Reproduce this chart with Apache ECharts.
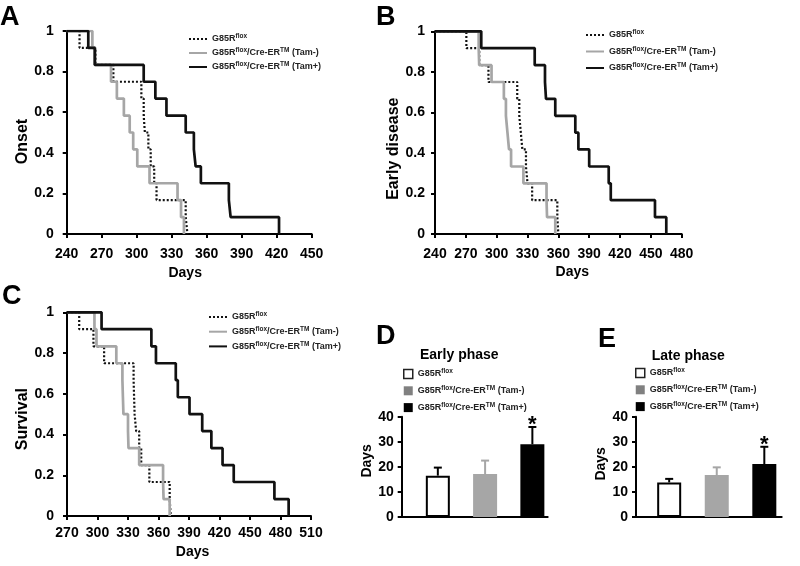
<!DOCTYPE html>
<html><head><meta charset="utf-8">
<script src="https://cdn.jsdelivr.net/npm/echarts@6/dist/echarts.min.js"></script>
<style>html,body{margin:0;padding:0;background:#fff;width:800px;height:566px;overflow:hidden}.p{position:absolute;left:0;top:0;width:800px;height:566px}</style>
</head><body>
<div id="pa" class="p"></div><div id="pb" class="p"></div><div id="pc" class="p"></div><div id="pd" class="p"></div><div id="pe" class="p"></div>
<script>
// ---------- data ----------
const groupNames = ['G85Rflox', 'G85Rflox/Cre-ERTM (Tam-)', 'G85Rflox/Cre-ERTM (Tam+)'];
const groupLabels = ['G85R{s|flox}', 'G85R{s|flox}/Cre-ER{s|TM} (Tam-)', 'G85R{s|flox}/Cre-ER{s|TM} (Tam+)'];
// fraction remaining after each successive event (n = 12 per group)
const kmLevels = [0.917, 0.833, 0.750, 0.667, 0.583, 0.500, 0.417, 0.333, 0.250, 0.167, 0.083, 0];
// event days, panel A (Onset)
const onsetFlox     = [251, 265, 280, 304, 306, 307, 310, 312, 315, 317, 342, 343.5];
const onsetTamMinus = [262, 264.5, 278, 283, 289, 294, 297, 300.5, 311, 335, 338, 340.5];
const onsetTamPlus  = [258.5, 264, 306, 316, 325.5, 342, 349, 350.5, 355, 379, 380.5, 422];
// panel B (Early disease)
const earlyFlox     = [270.5, 283, 292, 320, 322, 323.5, 325, 328.5, 330, 334.5, 359, 360];
const earlyTamMinus = [282.5, 283, 295, 307, 309, 310.5, 312, 314, 326, 348.5, 349, 357];
const earlyTamPlus  = [285, 337, 347, 348, 357, 376.5, 379.5, 390, 409, 411, 454, 465];
// panel C (Survival)
const survFlox      = [282, 296, 306.5, 335.5, 336, 336.5, 338, 341, 343, 351, 371, 372];
const survTamMinus  = [297, 299, 318.5, 324.5, 325, 325.5, 330, 330.5, 341, 364.5, 365, 371];
const survTamPlus   = [304, 353, 357.5, 377, 379, 390.5, 403, 412, 423, 434, 474, 488];
// panels D, E (duration in days, mean and error)
const earlyPhaseMean = [16.5, 17.1, 29.0];
const earlyPhaseErr  = [3.2, 5.4, 6.9];
const latePhaseMean  = [13.8, 16.7, 21.1];
const latePhaseErr   = [1.4, 3.1, 6.9];
const significance   = ['', '', '*'];

// ---------- styling ----------
const FONT = "'Liberation Sans', Arial, sans-serif";
const lineStyles = [
  {color: '#111', width: 2.2, type: [2, 2]},
  {color: '#a6a6a6', width: 2.7, type: 'solid'},
  {color: '#111', width: 2.7, type: 'solid'}
];
const barStyles = [
  {color: '#fff', borderColor: '#000', borderWidth: 2},
  {color: '#a6a6a6'},
  {color: '#000'}
];
const legendBarStyles = [
  {color: '#fff', borderColor: '#222', borderWidth: 1.5},
  {color: '#808080'},
  {color: '#000'}
];
const errColors = ['#000', '#a6a6a6', '#000'];
const legendText = {fontSize: 9, fontWeight: 'bold', fontFamily: FONT, color: '#222', lineHeight: 12,
  rich: {s: {fontSize: 6.5, fontWeight: 'bold', fontFamily: FONT, color: '#222', lineHeight: 7, verticalAlign: 'top'}}};
const legendFmt = n => groupLabels[groupNames.indexOf(n)];
const lab = (extra) => Object.assign({color: '#000', fontSize: 14, fontWeight: 'bold', fontFamily: FONT}, extra || {});
const axisBase = () => ({
  axisLine: {show: true, onZero: false, lineStyle: {color: '#000', width: 2}},
  axisTick: {show: true, inside: false, length: 4, lineStyle: {color: '#000', width: 2}},
  splitLine: {show: false}
});
const letter = (t, l, top) => ({text: t, left: l, top: top, padding: 0, textStyle: {fontSize: 27, fontWeight: 'bold', fontFamily: FONT, color: '#000'}});

function kmData(days, start) {
  const pts = [[start, 1]];
  days.forEach((d, i) => pts.push([d, kmLevels[i]]));
  return pts;
}

function kmChart(id, p) {
  const c = echarts.init(document.getElementById(id));
  const sets = [p.flox, p.minus, p.plus];
  c.setOption({
    animation: false,
    title: letter(p.letter, p.letterLeft, p.letterTop),
    grid: {left: p.left, top: p.top, width: p.width, height: p.height},
    legend: {orient: 'vertical', left: p.legLeft, top: p.legTop, itemGap: p.legGap, itemWidth: 18, itemHeight: 10,
      padding: 0, selectedMode: false, formatter: legendFmt, textStyle: legendText,
      itemStyle: {color: 'rgba(0,0,0,0)', borderWidth: 0, opacity: 0},
      data: groupNames},
    xAxis: Object.assign(axisBase(), {type: 'value', min: p.xMin, max: p.xMax, interval: 30,
      name: 'Days', nameLocation: 'middle', nameGap: p.xNameGap,
      nameTextStyle: lab({padding: p.xNamePad}),
      axisLabel: lab({margin: p.xLabMargin, showMinLabel: true, showMaxLabel: true})}),
    yAxis: Object.assign(axisBase(), {type: 'value', min: 0, max: 1, interval: 0.2,
      name: p.yName, nameLocation: 'middle', nameGap: p.yNameGap,
      nameTextStyle: lab({fontSize: 16, padding: p.yNamePad}),
      axisLabel: lab({margin: p.yLabMargin})}),
    series: sets.map((d, i) => ({
      type: 'line', name: groupNames[i], step: 'end', symbol: 'none', data: kmData(d, p.xMin),
      lineStyle: lineStyles[i], itemStyle: {color: lineStyles[i].color}, z: 2 + i
    }))
  });
}

function barChart(id, p) {
  const c = echarts.init(document.getElementById(id));
  c.setOption({
    animation: false,
    title: [letter(p.letter, p.letterLeft, p.letterTop),
      {text: p.title, left: p.titleLeft, top: p.titleTop, padding: 0, textStyle: {fontSize: 14, fontWeight: 'bold', fontFamily: FONT, color: '#000'}}],
    grid: [{left: p.bandLeft, top: p.top, width: p.bandWidth, height: p.height},
           {left: p.axisLeft, top: p.top, width: p.axisWidth, height: p.height}],
    legend: {orient: 'vertical', left: p.legLeft, top: p.legTop, itemGap: 4.8, itemWidth: 9, itemHeight: 9, padding: 0,
      selectedMode: false, formatter: legendFmt, textStyle: legendText,
      data: groupNames.map((n, i) => ({name: n, icon: 'rect', itemStyle: legendBarStyles[i]}))},
    xAxis: [{gridIndex: 0, type: 'category', data: groupNames, axisLine: {show: false}, axisTick: {show: false}, axisLabel: {show: false}},
            Object.assign(axisBase(), {gridIndex: 1, type: 'value', axisTick: {show: false}, axisLabel: {show: false}})],
    yAxis: [Object.assign(axisBase(), {gridIndex: 0, type: 'value', min: 0, max: 40, interval: 10, offset: p.yOffset,
              name: 'Days', nameLocation: 'middle', nameGap: 24, nameTextStyle: lab({padding: p.yNamePad}),
              axisLabel: lab({margin: 8})}),
            {gridIndex: 1, type: 'value', show: false}],
    series: groupNames.map((n, i) => ({
      type: 'bar', name: n, barWidth: 24, barGap: '-100%', xAxisIndex: 0, yAxisIndex: 0,
      data: p.mean.map((v, j) => j === i ? v : '-'), itemStyle: barStyles[i], z: 2
    })).concat([{
      type: 'custom', xAxisIndex: 0, yAxisIndex: 0, z: 3,
      data: p.mean.map((v, j) => [j, v, p.err[j]]),
      renderItem: (params, api) => {
        const j = params.dataIndex;
        const base = api.coord([api.value(0), api.value(1)]);
        const top = api.coord([api.value(0), api.value(1) + api.value(2)]);
        const st = {stroke: errColors[j], lineWidth: 2};
        const ch = [
          {type: 'line', shape: {x1: base[0], y1: base[1], x2: top[0], y2: top[1]}, style: st},
          {type: 'line', shape: {x1: top[0] - 4, y1: top[1], x2: top[0] + 4, y2: top[1]}, style: st}
        ];
        if (significance[j]) ch.push({type: 'text', style: {text: significance[j], x: top[0], y: top[1] - 2,
          align: 'center', verticalAlign: 'middle', font: 'bold 22px ' + FONT, fill: '#000'}});
        return {type: 'group', children: ch};
      }
    }])
  });
}

kmChart('pa', {letter: 'A', letterLeft: 0, letterTop: 4, left: 66.7, top: 31, width: 245, height: 203,
  xMin: 240, xMax: 450, flox: onsetFlox, minus: onsetTamMinus, plus: onsetTamPlus, yName: 'Onset',
  legLeft: 188, legTop: 33, legGap: 2, xNameGap: 32, xNamePad: [0, 8, 0, 0], xLabMargin: 13,
  yNameGap: 27, yNamePad: [0, 18, 0, 0], yLabMargin: 13});
kmChart('pb', {letter: 'B', letterLeft: 376, letterTop: 4, left: 435, top: 31.3, width: 246.7, height: 202.7,
  xMin: 240, xMax: 480, flox: earlyFlox, minus: earlyTamMinus, plus: earlyTamPlus, yName: 'Early disease',
  legLeft: 585, legTop: 29, legGap: 4.5, xNameGap: 31, xNamePad: [0, 0, 0, 28], xLabMargin: 13,
  yNameGap: 25, yNamePad: [0, 32, 0, 0], yLabMargin: 10});
kmChart('pc', {letter: 'C', letterLeft: 2, letterTop: 283, left: 67, top: 312.3, width: 244, height: 203.7,
  xMin: 270, xMax: 510, flox: survFlox, minus: survTamMinus, plus: survTamPlus, yName: 'Survival',
  legLeft: 208, legTop: 311, legGap: 2.7, xNameGap: 29, xNamePad: [0, 0, 0, 7], xLabMargin: 10,
  yNameGap: 29, yNamePad: [0, 10, 0, 0], yLabMargin: 13});
barChart('pd', {letter: 'D', letterLeft: 376, letterTop: 323, title: 'Early phase', titleLeft: 420, titleTop: 348,
  bandLeft: 414.2, bandWidth: 141.8, axisLeft: 401.7, axisWidth: 146, top: 416.7, height: 100.3, yOffset: 12.5,
  legLeft: 403, legTop: 368, yNamePad: [0, 0, 0, 12], mean: earlyPhaseMean, err: earlyPhaseErr});
barChart('pe', {letter: 'E', letterLeft: 598, letterTop: 326, title: 'Late phase', titleLeft: 651.7, titleTop: 349,
  bandLeft: 645.4, bandWidth: 142.7, axisLeft: 636, axisWidth: 145.7, top: 416.7, height: 100.3, yOffset: 9.4,
  legLeft: 635, legTop: 367, yNamePad: [0, 0, 0, 6], mean: latePhaseMean, err: latePhaseErr});
</script>
</body></html>
